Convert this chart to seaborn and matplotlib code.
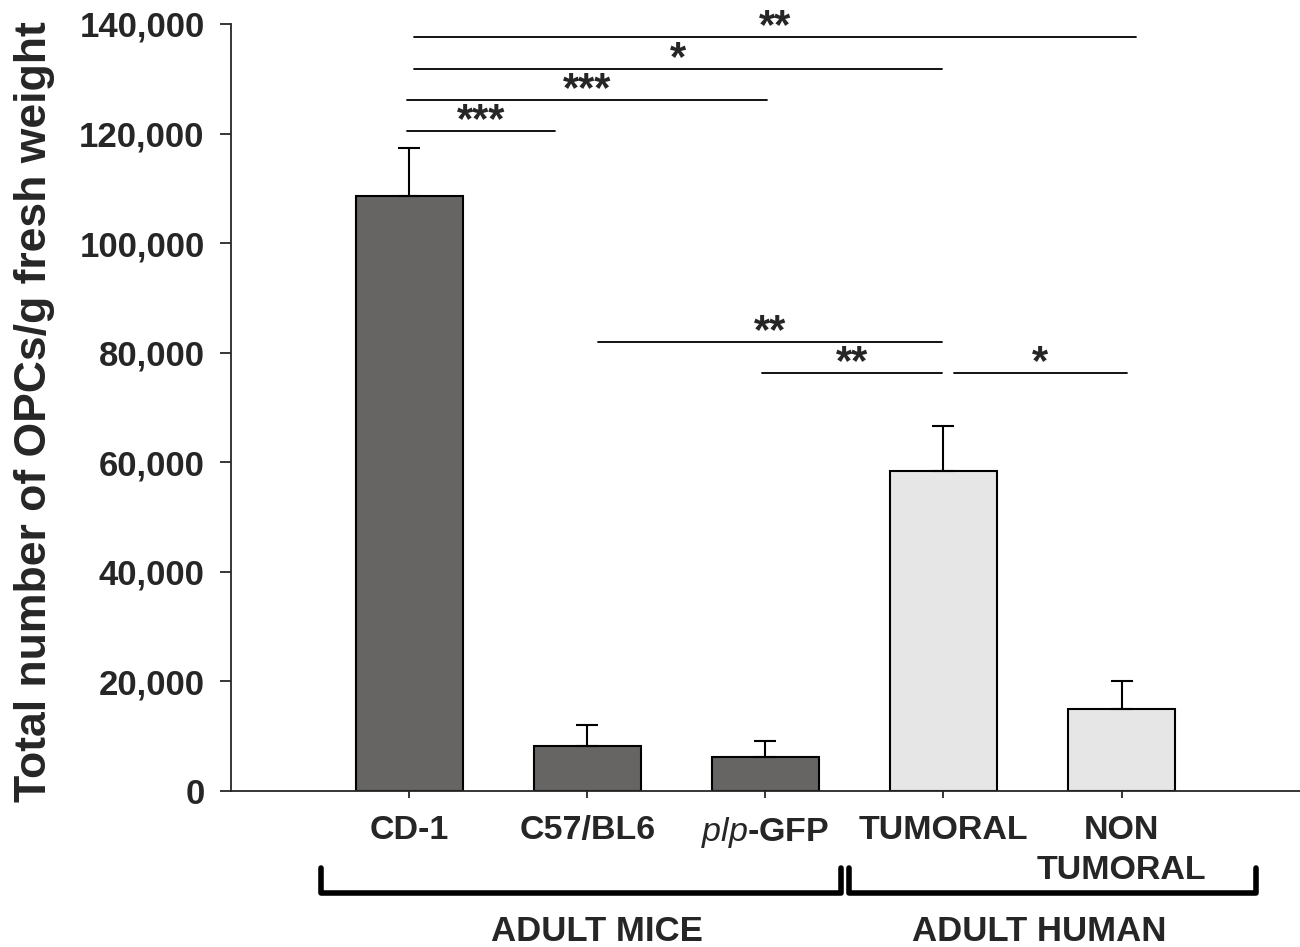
import pandas as pd
import seaborn as sns
import matplotlib.pyplot as plt
from matplotlib import transforms

# Chart values
groups = ["CD-1", "C57/BL6", r"$plp$-GFP", "TUMORAL", "NON\nTUMORAL"]
species = ["ADULT MICE", "ADULT MICE", "ADULT MICE", "ADULT HUMAN", "ADULT HUMAN"]
opcs = [108600, 8200, 6200, 58400, 15000]
sem = [8700, 3800, 2900, 8200, 5100]

# Significance annotations: start, end (bar positions), height, label
sig_start = [0.03, 0.03, -0.01, -0.01, 1.06, 1.98, 3.06]
sig_end = [4.08, 2.99, 2.01, 0.82, 2.99, 2.99, 4.03]
sig_height = [137600, 131800, 126100, 120400, 81900, 76300, 76300]
sig_label = ["**", "*", "***", "***", "**", "**", "*"]

palette = {"ADULT MICE": "#676563", "ADULT HUMAN": "#e6e6e6"}

sns.set_style("ticks")
plt.rcParams["font.family"] = ["Liberation Sans", "DejaVu Sans"]
plt.rcParams["font.weight"] = "bold"
plt.rcParams["mathtext.fontset"] = "custom"
plt.rcParams["mathtext.it"] = "Liberation Sans:style=italic:weight=normal"
plt.rcParams["mathtext.rm"] = "Liberation Sans:bold"


def main():
    df = pd.DataFrame({"Group": groups, "Species": species, "OPCs": opcs, "SEM": sem})

    fig = plt.figure(figsize=(13, 9.47), dpi=100)
    ax = fig.add_axes([0.1777, 0.1647, 0.822, 0.81])

    sns.barplot(data=df, x="Group", y="OPCs", hue="Species", palette=palette,
                dodge=False, width=0.6, errorbar=None, legend=False,
                edgecolor="black", linewidth=1.5, ax=ax)
    ax.errorbar(range(len(opcs)), df["OPCs"], yerr=[[0] * len(sem), df["SEM"]],
                fmt="none", ecolor="black", elinewidth=1.5, capsize=8, capthick=1.5)

    ax.set_xlim(-1, 5)
    ax.set_ylim(0, 140000)
    ax.set_yticks(range(0, 140001, 20000))
    ax.set_yticklabels([f"{v:,}" for v in range(0, 140001, 20000)])
    ax.tick_params(axis="y", labelsize=25, length=8, width=1.3, pad=11)
    ax.tick_params(axis="x", labelsize=24.5, length=5, width=1.3, pad=12)
    for lab in ax.get_xticklabels():
        lab.set_linespacing(1.4)
    ax.set_xlabel("")
    ax.set_ylabel("Total number of OPCs/g fresh weight", fontsize=32, fontweight="bold")
    ax.yaxis.set_label_coords(-0.165, 0.495)
    sns.despine(ax=ax)
    for side in ["left", "bottom"]:
        ax.spines[side].set_linewidth(1.3)

    # significance lines with stars
    for x1, x2, h, lab in zip(sig_start, sig_end, sig_height, sig_label):
        ax.plot([x1, x2], [h, h], color="black", lw=1.3, clip_on=False)
        ax.text((x1 + x2) / 2, h - 200, lab, ha="center", va="baseline",
                fontsize=30, fontweight="bold", clip_on=False)

    # group brackets under the axis
    trans = transforms.blended_transform_factory(ax.transData, ax.transAxes)
    brackets = [(-0.494, 2.427, "ADULT MICE", 1.056), (2.472, 4.753, "ADULT HUMAN", 3.54)]
    for x1, x2, lab, xt in brackets:
        ax.plot([x1, x1, x2, x2], [-0.100, -0.133, -0.133, -0.100], color="black",
                lw=4, transform=trans, clip_on=False, solid_joinstyle="round",
                solid_capstyle="round")
        ax.text(xt, -0.183, lab, transform=trans, ha="center", va="center",
                fontsize=25, fontweight="bold")

    fig.savefig("out.png", dpi=100)


if __name__ == "__main__":
    main()
